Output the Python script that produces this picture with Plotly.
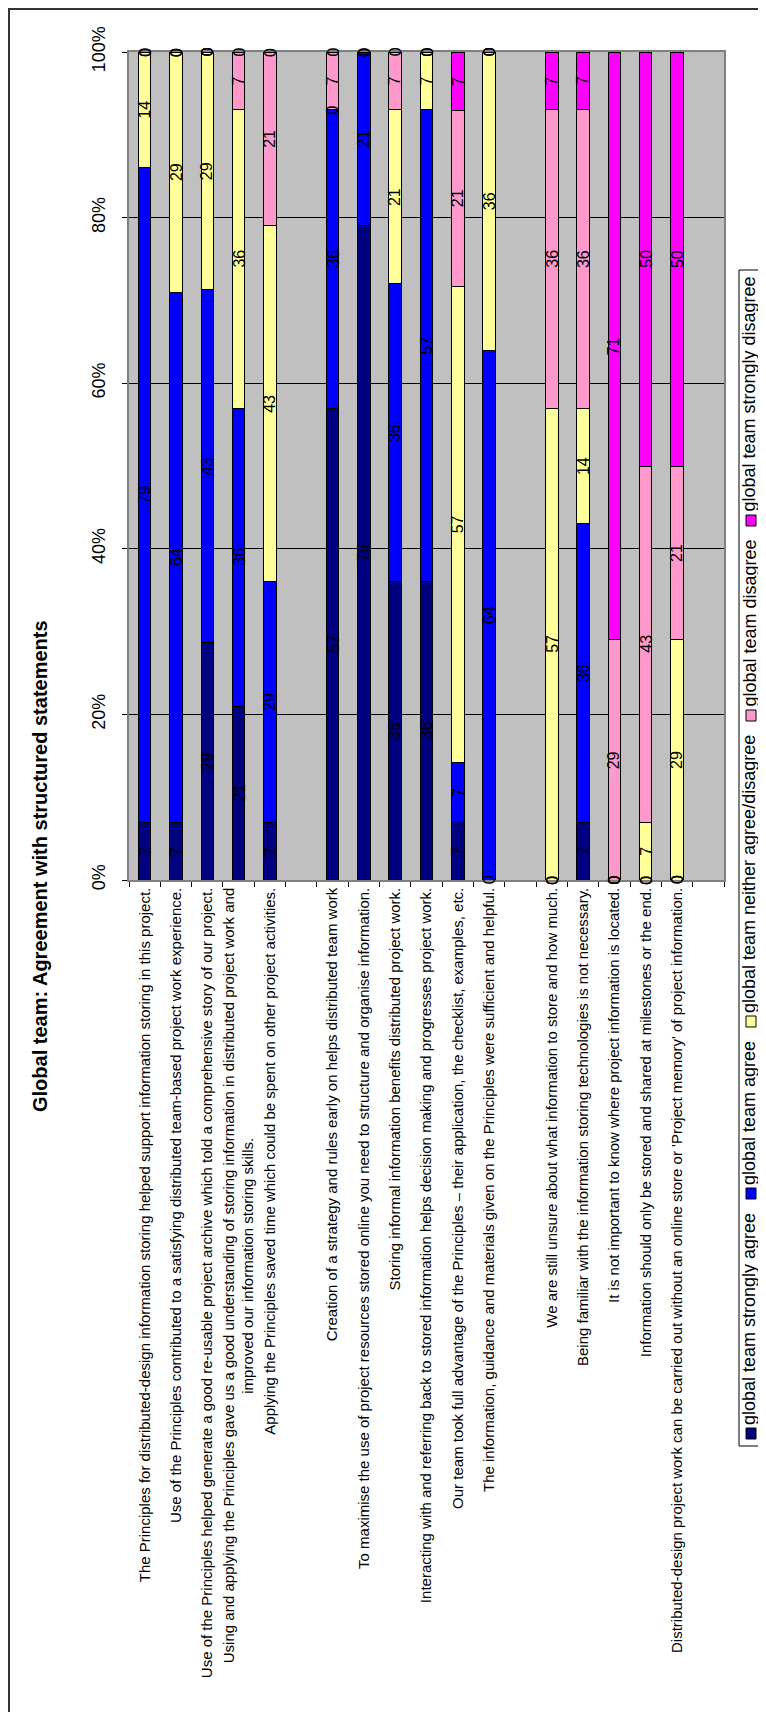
import plotly.graph_objects as go

# ---------------- data ----------------
PAD = "&nbsp;" * 60
categories = [
    "The Principles for distributed-design information storing helped support information storing in this project.",
    "Use of the Principles contributed to a satisfying distributed team-based project work experience.",
    "Use of the Principles helped generate a good re-usable project archive which told a comprehensive story of our project.",
    "Using and applying the Principles gave us a good understanding of storing information in distributed project work and<br>improved our information storing skills." + PAD,
    "Applying the Principles saved time which could be spent on other project activities.",
    " ",
    "Creation of a strategy and rules early on helps distributed team work",
    "To maximise the use of project resources stored online you need to structure and organise information.",
    "Storing informal information benefits distributed project work.",
    "Interacting with and referring back to stored information helps decision making and progresses project work.",
    "Our team took full advantage of the Principles \u2013 their application, the checklist, examples, etc.",
    "The information, guidance and materials given on the Principles were sufficient and helpful.",
    "  ",
    "We are still unsure about what information to store and how much.",
    "Being familiar with the information storing technologies is not necessary.",
    "It is not important to know where project information is located.",
    "Information should only be stored and shared at milestones or the end.",
    "Distributed-design project work can be carried out without an online store or 'Project memory' of project information.",
    "   ",
]

strongly_agree    = [7, 7, 29, 21, 7, None, 57, 79, 36, 36, 7, 0, None, 0, 7, 0, 0, 0, None]
agree             = [79, 64, 43, 36, 29, None, 36, 21, 36, 57, 7, 64, None, 0, 36, 0, 0, 0, None]
neither           = [14, 29, 29, 36, 43, None, 0, 0, 21, 7, 57, 36, None, 57, 14, 0, 7, 29, None]
disagree          = [0, 0, 0, 7, 21, None, 7, 0, 7, 0, 21, 0, None, 36, 36, 29, 43, 21, None]
strongly_disagree = [0, 0, 0, 0, 0, None, 0, 0, 0, 0, 7, 0, None, 7, 7, 71, 50, 50, None]

series_names = [
    "global team strongly agree",
    "global team agree",
    "global team neither agree/disagree",
    "global team disagree",
    "global team strongly disagree",
]
series_values = [strongly_agree, agree, neither, disagree, strongly_disagree]
series_colors = ["#000080", "#0000FF", "#FFFF99", "#FF99CC", "#FF00FF"]

title_text = "Global team: Agreement with structured statements"
y_tickvals = [0, 20, 40, 60, 80, 100]
y_ticktext = ["0%", "20%", "40%", "60%", "80%", "100%"]

# ---------------- layout geometry (window pixels) ----------------
OFF = 8                      # page body margin
W, H = 766 - OFF, 1712 - OFF
PL, PR, PT, PB = 129, 724, 52, 880     # plot area in window pixels
L, T = PL - OFF, PT - OFF
R = W - (PR - OFF)
B = H - (PB - OFF)
PW = PR - PL
PH = PB - PT


def px_x(p):
    return (p - PL) / PW


def px_y(p):
    return (PB - p) / PH


FONT = "Arial, Liberation Sans, sans-serif"

fig = go.Figure()
for name, vals, col in zip(series_names, series_values, series_colors):
    fig.add_trace(go.Bar(
        x=categories, y=vals, name=name,
        marker=dict(color=col, line=dict(color="black", width=1)),
        showlegend=False,
    ))

annotations = []
shapes = []

# value labels (rotated) at the middle of each normalised segment
for j, cat in enumerate(categories):
    vals = [s[j] for s in series_values]
    if any(v is None for v in vals):
        continue
    total = sum(vals)
    cum = 0
    for v in vals:
        mid = (cum + v / 2) / total * 100
        annotations.append(dict(
            x=cat, y=mid, xref="x", yref="y", text=str(v), showarrow=False,
            textangle=-90, font=dict(family=FONT, size=16, color="black"),
            xanchor="center", yanchor="middle",
        ))
        cum += v

# title
annotations.append(dict(
    x=px_x(40), y=px_y(866), xref="paper", yref="paper",
    text="<b>" + title_text + "</b>", showarrow=False, textangle=-90,
    font=dict(family=FONT, size=20, color="black"),
    xanchor="center", yanchor="middle",
))

# outer chart border (left / top visible; right / bottom run off the page)
shapes.append(dict(type="rect", xref="paper", yref="paper",
                   x0=px_x(OFF + 1), x1=px_x(800), y0=px_y(1760), y1=px_y(OFF + 1),
                   line=dict(color="#333333", width=2), fillcolor="rgba(0,0,0,0)",
                   layer="below"))

# legend (rotated): box, coloured keys and texts
LEG_FONT = 18
leg_len = [212, 144, 278, 167, 235]   # approx. text lengths in px
sq, sq_gap, item_gap = 11, 3, 14
total_len = 5 * (sq + sq_gap) + sum(leg_len) + 4 * item_gap
cur = 858 + total_len / 2
shapes.append(dict(type="rect", xref="paper", yref="paper",
                   x0=px_x(739), x1=px_x(800), y0=px_y(cur + 7), y1=px_y(cur - total_len - 7),
                   line=dict(color="black", width=1), fillcolor="white", layer="below"))
for name, col, ln in zip(series_names, series_colors, leg_len):
    shapes.append(dict(type="rect", xref="paper", yref="paper",
                       x0=px_x(746), x1=px_x(756), y0=px_y(cur), y1=px_y(cur - sq),
                       line=dict(color="black", width=1), fillcolor=col))
    text_bottom = cur - sq - sq_gap
    annotations.append(dict(
        x=px_x(749), y=px_y(text_bottom - ln / 2), xref="paper", yref="paper",
        text=name, showarrow=False, textangle=-90,
        font=dict(family=FONT, size=LEG_FONT, color="black"),
        xanchor="center", yanchor="middle",
    ))
    cur = text_bottom - ln - item_gap

fig.update_layout(
    width=W, height=H,
    margin=dict(l=L, r=R, t=T, b=B, autoexpand=False),
    barmode="stack", barnorm="percent", bargap=0.6,
    plot_bgcolor="#C0C0C0", paper_bgcolor="white",
    font=dict(family=FONT, color="black"),
    annotations=annotations, shapes=shapes,
    showlegend=False,
    xaxis=dict(
        type="category", categoryorder="array", categoryarray=categories,
        tickangle=-90, ticks="outside", tickson="boundaries", ticklen=5,
        tickcolor="black", showline=True, linecolor="#808080", linewidth=1.5,
        mirror=True, showgrid=False, automargin=False,
        tickfont=dict(family=FONT, size=15, color="black"),
    ),
    yaxis=dict(
        range=[0, 100], tickvals=y_tickvals, ticktext=y_ticktext,
        tickangle=-90, ticks="outside", ticklen=5, tickcolor="black",
        showgrid=True, gridcolor="black", gridwidth=1, zeroline=False,
        showline=True, linecolor="#808080", linewidth=1.5, mirror=True,
        automargin=False, ticklabelstandoff=10,
        tickfont=dict(family=FONT, size=18, color="black"),
    ),
)

fig.write_html("out.html")
